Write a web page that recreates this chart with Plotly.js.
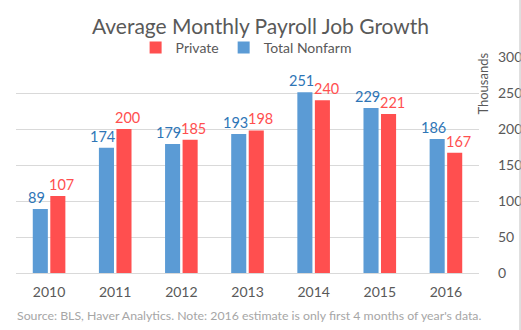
<!DOCTYPE html>
<html><head><meta charset="utf-8">
<script src="https://cdn.plot.ly/plotly-3.0.1.min.js"></script>
<style>html,body{margin:0;padding:0;background:#fff}#c{width:521px;height:330px}</style>
</head><body><div id="c"></div>
<script>
var years = ['2010','2011','2012','2013','2014','2015','2016'];
var totalNonfarm = [89,174,179,193,251,229,186];
var privateJobs = [107,200,185,198,240,221,167];
var yTicks = [0,50,100,150,200,250,300];

var F = 'Lato, "Open Sans", sans-serif';
var BLUE = '#5b9bd5', RED = '#ff4f4f';
var data = [
  {type:'bar', name:'Total Nonfarm', x:years, y:totalNonfarm,
   marker:{color:BLUE}, legendrank:2, hoverinfo:'skip'},
  {type:'bar', name:'Private', x:years, y:privateJobs,
   marker:{color:RED}, legendrank:1, hoverinfo:'skip'}
];
var labelAnns = [];
years.forEach(function(yr, i){
  labelAnns.push({x:i, y:totalNonfarm[i], xref:'x', yref:'y', text:String(totalNonfarm[i]),
    showarrow:false, yanchor:'bottom', xanchor:'center', xshift:-12.5, yshift:1,
    font:{size:14.5, color:'#2e75b6', family:F}});
  labelAnns.push({x:i, y:privateJobs[i], xref:'x', yref:'y', text:String(privateJobs[i]),
    showarrow:false, yanchor:'bottom', xanchor:'center', xshift:12.5, yshift:1,
    font:{size:14.5, color:RED, family:F}});
});
var layout = {
  width:521, height:330,
  margin:{l:16, r:42, t:57, b:57},
  paper_bgcolor:'#fff', plot_bgcolor:'#fff',
  font:{family:F, color:'#595959'},
  title:{text:'Average Monthly Payroll Job Growth', font:{size:21, color:'#595959', family:F},
         x:0.5, xanchor:'center', y:0.918, yanchor:'middle'},
  showlegend:true,
  legend:{orientation:'h', x:0.497, xanchor:'center', y:1.042, yanchor:'middle',
          font:{size:14, color:'#595959', family:F}, itemwidth:30, traceorder:'normal'},
  barmode:'group', bargap:0.47, bargroupgap:0.14,
  xaxis:{type:'category', tickfont:{size:14, color:'#595959'}, showline:true, linecolor:'#d9d9d9', ticks:'',
         ticklabelstandoff:6, fixedrange:true},
  yaxis:{side:'right', range:[0,300], tickvals:yTicks, ticktext:yTicks.map(String),
         tickfont:{size:14, color:'#595959'}, gridcolor:'#d9d9d9', zeroline:false, ticks:'',
         showline:false, ticklabelstandoff:18},
  annotations:labelAnns.concat([
    {text:'Thousands', xref:'paper', yref:'paper', x:0.985, y:1.03, xanchor:'left', yanchor:'top',
     textangle:-90, showarrow:false, font:{size:13, color:'#595959', family:F}},
    {text:"Source: BLS, Haver Analytics. Note: 2016 estimate is only first 4 months of year's data.",
     xref:'paper', yref:'paper', x:-0.002, y:-0.199, xanchor:'left', yanchor:'middle', showarrow:false,
     font:{size:12.3, color:'#a6a6a6', family:F}}
  ]),
  shapes:[{type:'line', xref:'paper', yref:'paper', x0:1.0886, x1:1.0886, y0:-0.27, y1:1.27,
           line:{color:'#bfbfbf', width:1}}]
};
Plotly.newPlot('c', data, layout, {displayModeBar:false, staticPlot:true});
</script></body></html>
